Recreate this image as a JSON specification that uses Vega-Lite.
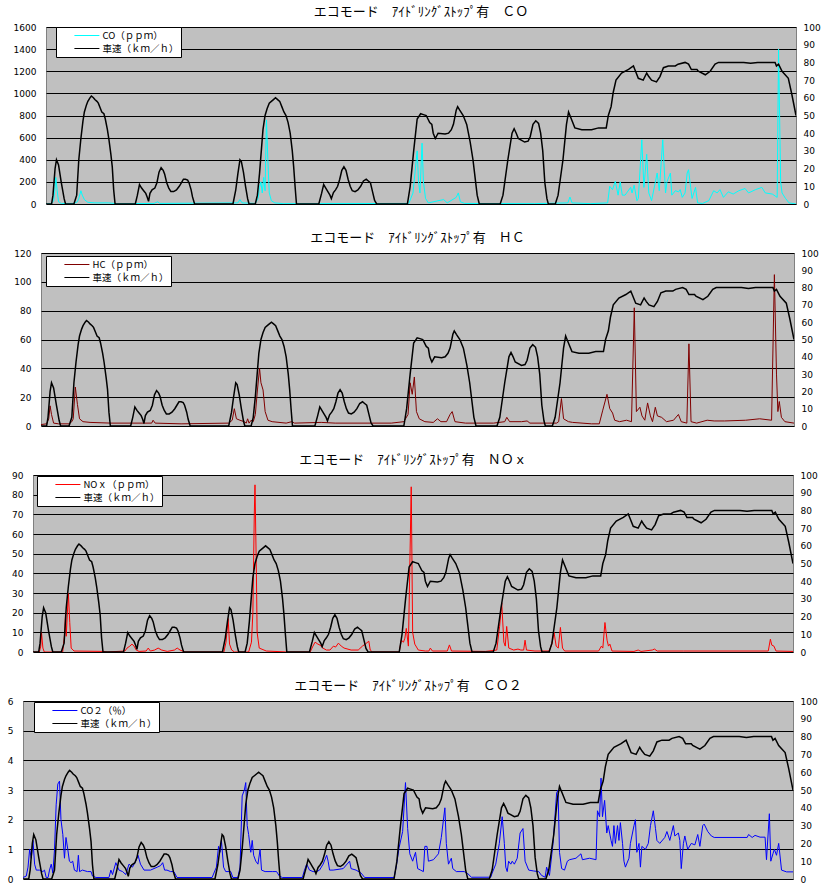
{
"$schema": "https://vega.github.io/schema/vega-lite/v6.json",
"background": "white",
"padding": {"left": 0, "top": 5, "right": 0, "bottom": 0},
"spacing": 21,
"resolve": {"scale": {"color": "independent"}, "legend": {"color": "independent"}},
"datasets": {
"speed": [
{"t":0,"v":0},{"t":8,"v":0},{"t":10,"v":5},{"t":13,"v":20},{"t":15,"v":25},{"t":18,"v":22},{"t":22,"v":12},{"t":26,"v":3},{"t":28,"v":0},
{"t":40,"v":0},{"t":44,"v":5},{"t":47,"v":25},{"t":50,"v":37},{"t":53,"v":47},{"t":55,"v":52},{"t":58,"v":56},{"t":60,"v":58},{"t":63,"v":60},{"t":65,"v":61},{"t":68,"v":60},{"t":70,"v":59},{"t":73,"v":58},{"t":75,"v":57},{"t":78,"v":54},{"t":80,"v":52},{"t":83,"v":51},{"t":85,"v":48},{"t":88,"v":42},{"t":90,"v":37},{"t":93,"v":28},{"t":95,"v":21},{"t":97,"v":8},{"t":99,"v":0},
{"t":128,"v":0},{"t":131,"v":5},{"t":134,"v":11},{"t":137,"v":9},{"t":140,"v":7.5},{"t":143,"v":6},{"t":145,"v":4},{"t":147,"v":1.5},{"t":149,"v":6},{"t":152,"v":8},{"t":156,"v":9},{"t":159,"v":12},{"t":162,"v":18},{"t":165,"v":20.5},{"t":168,"v":19},{"t":170,"v":17},{"t":173,"v":12},{"t":176,"v":9},{"t":179,"v":7},{"t":183,"v":7},{"t":187,"v":8},{"t":191,"v":10},{"t":194,"v":12},{"t":197,"v":14},{"t":200,"v":14},{"t":203,"v":13.5},{"t":205,"v":12},{"t":208,"v":8},{"t":210,"v":4},{"t":213,"v":0},
{"t":268,"v":0},{"t":272,"v":8},{"t":275,"v":17},{"t":278,"v":25},{"t":280,"v":24},{"t":283,"v":18},{"t":286,"v":10},{"t":289,"v":3},{"t":291,"v":0},
{"t":300,"v":0},{"t":303,"v":5},{"t":306,"v":17},{"t":309,"v":32},{"t":311,"v":42},{"t":314,"v":50},{"t":317,"v":54},{"t":320,"v":57},{"t":323,"v":58},{"t":326,"v":59},{"t":329,"v":60},{"t":332,"v":59},{"t":335,"v":58},{"t":338,"v":55},{"t":341,"v":52},{"t":344,"v":50},{"t":347,"v":46},{"t":350,"v":40},{"t":353,"v":30},{"t":355,"v":21},{"t":357,"v":10},{"t":359,"v":0},
{"t":391,"v":0},{"t":395,"v":6},{"t":398,"v":11},{"t":401,"v":9},{"t":404,"v":7},{"t":407,"v":5},{"t":409,"v":3},{"t":412,"v":6.5},{"t":415,"v":8},{"t":418,"v":10},{"t":421,"v":14},{"t":424,"v":19},{"t":427,"v":21},{"t":430,"v":19},{"t":433,"v":14},{"t":436,"v":10},{"t":439,"v":7.5},{"t":443,"v":7},{"t":447,"v":8},{"t":451,"v":10},{"t":455,"v":13},{"t":459,"v":14},{"t":462,"v":13},{"t":465,"v":12},{"t":468,"v":7},{"t":471,"v":2},{"t":474,"v":0},
{"t":518,"v":0},{"t":522,"v":10},{"t":527,"v":30},{"t":532,"v":48},{"t":537,"v":51},{"t":541,"v":50.5},{"t":545,"v":50},{"t":550,"v":46},{"t":553,"v":45},{"t":555,"v":40},{"t":558,"v":37},{"t":562,"v":40},{"t":572,"v":39.5},{"t":577,"v":40},{"t":581,"v":42},{"t":584,"v":45},{"t":588,"v":53},{"t":590,"v":55},{"t":593,"v":53},{"t":598,"v":50},{"t":603,"v":45},{"t":608,"v":35},{"t":612,"v":25},{"t":615,"v":15},{"t":618,"v":5},{"t":621,"v":0},
{"t":651,"v":0},{"t":655,"v":5},{"t":662,"v":25},{"t":668,"v":40},{"t":671,"v":42.5},{"t":674,"v":40},{"t":677,"v":37},{"t":686,"v":35},{"t":691,"v":35.5},{"t":694,"v":38},{"t":698,"v":45},{"t":702,"v":47},{"t":706,"v":45.5},{"t":709,"v":40},{"t":712,"v":30},{"t":715,"v":12},{"t":718,"v":3},{"t":720,"v":0},
{"t":730,"v":0},{"t":734,"v":5},{"t":741,"v":25},{"t":746,"v":45},{"t":749,"v":52},{"t":753,"v":48},{"t":758,"v":43},{"t":768,"v":42},{"t":782,"v":42},{"t":792,"v":43},{"t":803,"v":43},{"t":806,"v":50},{"t":810,"v":55},{"t":813,"v":63},{"t":817,"v":70},{"t":825,"v":74},{"t":835,"v":76},{"t":842,"v":78},{"t":844,"v":76},{"t":849,"v":71},{"t":856,"v":70},{"t":861,"v":74},{"t":864,"v":72},{"t":868,"v":70},{"t":875,"v":69},{"t":880,"v":72},{"t":885,"v":77},{"t":892,"v":78},{"t":902,"v":78},{"t":906,"v":79},{"t":916,"v":80},{"t":921,"v":79},{"t":925,"v":76},{"t":933,"v":76},{"t":935,"v":75},{"t":945,"v":73},{"t":952,"v":75},{"t":959,"v":79},{"t":964,"v":80},{"t":1000,"v":80},{"t":1010,"v":79.5},{"t":1020,"v":80},{"t":1045,"v":80},{"t":1047,"v":78},{"t":1050,"v":79},{"t":1055,"v":75},{"t":1064,"v":71},{"t":1069,"v":62},{"t":1075,"v":50}
],
"co": [
{"t":0,"v":0},{"t":8,"v":5},{"t":11,"v":30},{"t":13,"v":150},{"t":14,"v":240},{"t":16,"v":120},{"t":18,"v":20},{"t":22,"v":5},{"t":40,"v":5},{"t":45,"v":20},{"t":47,"v":50},{"t":50,"v":120},{"t":52,"v":80},{"t":55,"v":40},{"t":60,"v":15},{"t":70,"v":10},{"t":90,"v":10},{"t":100,"v":3},{"t":155,"v":5},{"t":160,"v":20},{"t":163,"v":5},{"t":275,"v":10},{"t":278,"v":40},{"t":281,"v":10},{"t":300,"v":5},{"t":304,"v":50},{"t":306,"v":150},{"t":308,"v":200},{"t":310,"v":100},{"t":312,"v":240},{"t":314,"v":120},{"t":316,"v":760},{"t":318,"v":400},{"t":320,"v":100},{"t":323,"v":30},{"t":328,"v":10},{"t":340,"v":3},{"t":520,"v":5},{"t":526,"v":100},{"t":532,"v":480},{"t":534,"v":200},{"t":536,"v":100},{"t":539,"v":550},{"t":541,"v":200},{"t":544,"v":50},{"t":548,"v":10},{"t":570,"v":40},{"t":575,"v":10},{"t":588,"v":60},{"t":591,"v":100},{"t":594,"v":20},{"t":600,"v":5},{"t":700,"v":3},{"t":748,"v":10},{"t":751,"v":63},{"t":754,"v":10},{"t":780,"v":3},{"t":805,"v":10},{"t":808,"v":160},{"t":812,"v":130},{"t":816,"v":205},{"t":820,"v":80},{"t":823,"v":200},{"t":826,"v":80},{"t":830,"v":80},{"t":838,"v":150},{"t":840,"v":100},{"t":843,"v":170},{"t":847,"v":30},{"t":849,"v":50},{"t":854,"v":580},{"t":857,"v":150},{"t":861,"v":450},{"t":864,"v":100},{"t":868,"v":30},{"t":876,"v":280},{"t":879,"v":120},{"t":884,"v":580},{"t":888,"v":100},{"t":890,"v":200},{"t":895,"v":280},{"t":897,"v":80},{"t":902,"v":120},{"t":907,"v":110},{"t":909,"v":130},{"t":912,"v":60},{"t":916,"v":100},{"t":919,"v":280},{"t":921,"v":310},{"t":924,"v":150},{"t":926,"v":50},{"t":931,"v":150},{"t":934,"v":10},{"t":941,"v":5},{"t":950,"v":30},{"t":957,"v":120},{"t":962,"v":100},{"t":966,"v":130},{"t":971,"v":60},{"t":978,"v":110},{"t":985,"v":90},{"t":993,"v":120},{"t":1002,"v":140},{"t":1007,"v":100},{"t":1017,"v":130},{"t":1026,"v":150},{"t":1031,"v":100},{"t":1041,"v":90},{"t":1048,"v":60},{"t":1050,"v":1400},{"t":1053,"v":200},{"t":1055,"v":100},{"t":1060,"v":50},{"t":1065,"v":10},{"t":1075,"v":0}
],
"hc": [
{"t":0,"v":1},{"t":8,"v":1.5},{"t":11,"v":5},{"t":13,"v":14},{"t":15,"v":8},{"t":18,"v":2},{"t":25,"v":1.5},{"t":40,"v":1.5},{"t":44,"v":3},{"t":46,"v":5},{"t":49,"v":27},{"t":52,"v":15},{"t":55,"v":5},{"t":60,"v":3},{"t":70,"v":2.5},{"t":100,"v":2},{"t":158,"v":2},{"t":160,"v":4},{"t":163,"v":2},{"t":200,"v":1.5},{"t":268,"v":2},{"t":273,"v":4},{"t":276,"v":12},{"t":279,"v":5},{"t":284,"v":4},{"t":290,"v":3},{"t":293,"v":2},{"t":295,"v":5},{"t":297,"v":2},{"t":300,"v":4},{"t":303,"v":3},{"t":306,"v":8},{"t":309,"v":25},{"t":312,"v":40},{"t":314,"v":30},{"t":317,"v":25},{"t":320,"v":10},{"t":324,"v":4},{"t":330,"v":3},{"t":350,"v":2},{"t":358,"v":3},{"t":362,"v":2},{"t":400,"v":2.5},{"t":420,"v":2},{"t":500,"v":2},{"t":518,"v":3},{"t":524,"v":8},{"t":527,"v":30},{"t":530,"v":22},{"t":533,"v":34},{"t":536,"v":10},{"t":540,"v":5},{"t":548,"v":3},{"t":560,"v":2.5},{"t":566,"v":5},{"t":571,"v":3},{"t":579,"v":3},{"t":584,"v":8},{"t":587,"v":10},{"t":591,"v":3},{"t":606,"v":2},{"t":646,"v":2},{"t":662,"v":3},{"t":665,"v":6},{"t":669,"v":3},{"t":686,"v":3},{"t":694,"v":3.5},{"t":698,"v":2},{"t":736,"v":2},{"t":739,"v":3},{"t":743,"v":19},{"t":746,"v":5},{"t":753,"v":3},{"t":759,"v":2.5},{"t":786,"v":1.5},{"t":797,"v":1.5},{"t":802,"v":11},{"t":808,"v":22},{"t":812,"v":12},{"t":816,"v":9},{"t":819,"v":4},{"t":826,"v":3},{"t":836,"v":4},{"t":843,"v":3},{"t":847,"v":82},{"t":850,"v":10},{"t":855,"v":13},{"t":858,"v":7},{"t":862,"v":4},{"t":866,"v":16},{"t":870,"v":7},{"t":873,"v":3},{"t":877,"v":13},{"t":880,"v":7},{"t":886,"v":6},{"t":893,"v":3},{"t":903,"v":4},{"t":910,"v":8},{"t":914,"v":3},{"t":922,"v":2},{"t":925,"v":57},{"t":928,"v":3},{"t":936,"v":2},{"t":951,"v":4},{"t":961,"v":3.5},{"t":976,"v":3.5},{"t":1006,"v":4},{"t":1026,"v":5},{"t":1043,"v":4},{"t":1047,"v":105},{"t":1050,"v":36},{"t":1052,"v":10},{"t":1054,"v":17},{"t":1057,"v":6},{"t":1062,"v":3},{"t":1075,"v":2}
],
"nox": [
{"t":0,"v":0},{"t":9,"v":0},{"t":11,"v":3},{"t":12,"v":10},{"t":14,"v":2},{"t":16,"v":0},{"t":42,"v":0},{"t":45,"v":10},{"t":46,"v":20},{"t":47,"v":8},{"t":50,"v":30},{"t":52,"v":15},{"t":54,"v":2},{"t":58,"v":0.5},{"t":100,"v":0.3},{"t":105,"v":0},{"t":130,"v":0.5},{"t":133,"v":2},{"t":137,"v":3},{"t":140,"v":4},{"t":143,"v":3},{"t":146,"v":1},{"t":150,"v":0.3},{"t":160,"v":0.5},{"t":163,"v":2},{"t":166,"v":0.5},{"t":172,"v":1},{"t":177,"v":2},{"t":182,"v":1},{"t":190,"v":0.3},{"t":200,"v":1},{"t":204,"v":2},{"t":208,"v":1},{"t":215,"v":0},{"t":270,"v":0},{"t":273,"v":5},{"t":276,"v":17},{"t":278,"v":4},{"t":281,"v":1},{"t":285,"v":0},{"t":305,"v":0},{"t":309,"v":5},{"t":311,"v":20},{"t":313,"v":70},{"t":314,"v":85},{"t":316,"v":40},{"t":317,"v":10},{"t":320,"v":2},{"t":330,"v":0.5},{"t":360,"v":0},{"t":392,"v":0},{"t":396,"v":3},{"t":399,"v":5},{"t":403,"v":4},{"t":406,"v":3.5},{"t":410,"v":2},{"t":415,"v":1},{"t":420,"v":1},{"t":425,"v":3},{"t":428,"v":2.5},{"t":432,"v":4.5},{"t":436,"v":3},{"t":440,"v":2},{"t":450,"v":1},{"t":460,"v":1},{"t":466,"v":3},{"t":470,"v":4},{"t":475,"v":5.5},{"t":477,"v":1},{"t":480,"v":0},{"t":518,"v":0},{"t":521,"v":6},{"t":524,"v":5},{"t":526,"v":7},{"t":528,"v":12},{"t":531,"v":3},{"t":535,"v":84},{"t":537,"v":10},{"t":540,"v":4},{"t":545,"v":1},{"t":555,"v":0.5},{"t":560,"v":0.5},{"t":562,"v":2},{"t":565,"v":0.5},{"t":586,"v":0.5},{"t":589,"v":3.6},{"t":592,"v":0.5},{"t":640,"v":0.3},{"t":656,"v":1},{"t":660,"v":13},{"t":663,"v":25},{"t":666,"v":5},{"t":668,"v":3},{"t":670,"v":13},{"t":673,"v":2},{"t":680,"v":1},{"t":686,"v":1.5},{"t":690,"v":1},{"t":694,"v":1},{"t":696,"v":6},{"t":698,"v":1},{"t":710,"v":0.5},{"t":730,"v":0.5},{"t":734,"v":4},{"t":737,"v":10},{"t":740,"v":3},{"t":743,"v":2},{"t":746,"v":12.5},{"t":749,"v":2},{"t":752,"v":0.5},{"t":800,"v":0.5},{"t":804,"v":3},{"t":806,"v":2},{"t":809,"v":15},{"t":812,"v":6},{"t":814,"v":3},{"t":816,"v":4},{"t":819,"v":0.5},{"t":850,"v":0.3},{"t":856,"v":1},{"t":860,"v":0.3},{"t":876,"v":1},{"t":879,"v":1.5},{"t":883,"v":0.5},{"t":920,"v":0.5},{"t":1000,"v":0.5},{"t":1040,"v":0.5},{"t":1043,"v":6.5},{"t":1045,"v":3.5},{"t":1048,"v":3},{"t":1051,"v":0.5},{"t":1075,"v":0.3}
],
"co2": [
{"t":0,"v":0.05},{"t":4.6,"v":0.1},{"t":7,"v":0.4},{"t":9.3,"v":1.0},{"t":11.6,"v":0.7},{"t":13.9,"v":1.3},{"t":16.2,"v":0.5},{"t":18.5,"v":0.3},{"t":23,"v":0.3},{"t":27.8,"v":0.25},{"t":30,"v":0.3},{"t":32.4,"v":0.05},{"t":35,"v":0.05},{"t":37,"v":0.3},{"t":39.4,"v":0.5},{"t":41.7,"v":0.2},{"t":44,"v":1.0},{"t":46.3,"v":2.5},{"t":48.6,"v":3.2},{"t":51,"v":3.3},{"t":53,"v":2.0},{"t":55.6,"v":1.5},{"t":57.9,"v":0.7},{"t":60,"v":1.4},{"t":62.5,"v":1.0},{"t":64.8,"v":0.6},{"t":67,"v":0.55},{"t":69.4,"v":0.6},{"t":71.8,"v":0.3},{"t":75.5,"v":0.25},{"t":77.3,"v":0.8},{"t":79,"v":0.25},{"t":83,"v":0.3},{"t":90,"v":0.25},{"t":95,"v":0.25},{"t":97,"v":0.1},{"t":102,"v":0.05},{"t":120,"v":0.05},{"t":122.7,"v":0.3},{"t":125,"v":0.15},{"t":129.6,"v":0.55},{"t":134,"v":0.3},{"t":139,"v":0.25},{"t":143.5,"v":0.15},{"t":148,"v":0.5},{"t":152.8,"v":0.4},{"t":157.4,"v":0.6},{"t":160.6,"v":0.8},{"t":164,"v":0.5},{"t":169,"v":0.3},{"t":178,"v":0.3},{"t":187.5,"v":0.4},{"t":192,"v":0.45},{"t":195,"v":0.55},{"t":197.7,"v":0.3},{"t":201,"v":0.3},{"t":206,"v":0.25},{"t":210.6,"v":0.25},{"t":215,"v":0.05},
{"t":264,"v":0.05},{"t":270,"v":0.4},{"t":273,"v":1.1},{"t":275,"v":0.9},{"t":277,"v":1.3},{"t":280,"v":0.4},{"t":283,"v":0.25},{"t":290,"v":0.25},{"t":293,"v":0.05},{"t":300,"v":0.05},{"t":303,"v":0.4},{"t":306,"v":2.8},{"t":309,"v":3.0},{"t":311,"v":3.25},{"t":313,"v":1.8},{"t":315,"v":1.5},{"t":318,"v":0.9},{"t":320,"v":1.3},{"t":322,"v":0.8},{"t":325,"v":0.6},{"t":328,"v":0.5},{"t":331,"v":1.0},{"t":333,"v":0.3},{"t":338,"v":0.25},{"t":348,"v":0.25},{"t":354,"v":0.25},{"t":358,"v":0.1},{"t":362,"v":0.05},
{"t":390,"v":0.05},{"t":393,"v":0.3},{"t":396,"v":0.5},{"t":400,"v":0.3},{"t":405,"v":0.25},{"t":410,"v":0.25},{"t":414,"v":0.3},{"t":419,"v":0.5},{"t":424,"v":0.8},{"t":426,"v":0.6},{"t":428,"v":0.3},{"t":433,"v":0.3},{"t":447,"v":0.35},{"t":456,"v":0.6},{"t":458,"v":0.35},{"t":465,"v":0.3},{"t":472,"v":0.2},{"t":477,"v":0.05},
{"t":518,"v":0.05},{"t":521,"v":0.4},{"t":525,"v":1.05},{"t":530,"v":1.6},{"t":534,"v":3.25},{"t":537,"v":1.7},{"t":540,"v":0.85},{"t":544,"v":0.6},{"t":548,"v":0.9},{"t":551,"v":0.35},{"t":555,"v":0.3},{"t":559,"v":0.25},{"t":561,"v":1.1},{"t":564,"v":1.1},{"t":566,"v":0.6},{"t":573,"v":0.65},{"t":580,"v":0.85},{"t":584,"v":1.4},{"t":589,"v":2.4},{"t":591,"v":1.2},{"t":594,"v":0.5},{"t":598,"v":0.7},{"t":600,"v":0.35},{"t":605,"v":0.25},{"t":616,"v":0.25},{"t":621,"v":0.18},{"t":626,"v":0.06},
{"t":653,"v":0.06},{"t":655,"v":0.2},{"t":660,"v":0.5},{"t":665,"v":1.2},{"t":669,"v":2.1},{"t":672,"v":1.2},{"t":674,"v":0.4},{"t":676,"v":0.25},{"t":678,"v":0.6},{"t":681,"v":0.5},{"t":683,"v":0.6},{"t":686,"v":0.5},{"t":690,"v":0.7},{"t":694,"v":1.55},{"t":698,"v":1.7},{"t":701,"v":0.6},{"t":706,"v":0.3},{"t":713,"v":0.27},{"t":720,"v":0.25},{"t":724,"v":0.12},{"t":729,"v":0.06},{"t":731,"v":0.4},{"t":735,"v":0.12},{"t":740,"v":1.2},{"t":745,"v":2.9},{"t":747,"v":3.0},{"t":749,"v":0.9},{"t":752,"v":0.35},{"t":756,"v":0.3},{"t":760,"v":0.6},{"t":763,"v":0.65},{"t":772,"v":0.7},{"t":779,"v":0.85},{"t":781,"v":0.65},{"t":791,"v":0.7},{"t":800,"v":0.65},
{"t":802,"v":2.3},{"t":805,"v":2.1},{"t":807,"v":3.4},{"t":809,"v":2.1},{"t":812,"v":2.65},{"t":815,"v":1.55},{"t":817,"v":1.8},{"t":821,"v":1.3},{"t":823,"v":1.1},{"t":825,"v":1.8},{"t":827,"v":1.2},{"t":830,"v":1.8},{"t":832,"v":1.3},{"t":834,"v":1.9},{"t":837,"v":1.2},{"t":839,"v":0.6},{"t":841,"v":0.4},{"t":846,"v":0.7},{"t":848,"v":1.2},{"t":853,"v":1.8},{"t":855,"v":2.0},{"t":857,"v":0.9},{"t":860,"v":1.2},{"t":862,"v":0.4},{"t":864,"v":1.1},{"t":869,"v":1.0},{"t":873,"v":1.2},{"t":876,"v":1.8},{"t":880,"v":2.3},{"t":883,"v":1.7},{"t":885,"v":1.3},{"t":889,"v":1.2},{"t":896,"v":1.4},{"t":899,"v":1.6},{"t":903,"v":1.3},{"t":908,"v":1.8},{"t":910,"v":1.45},{"t":915,"v":1.55},{"t":917,"v":1.3},{"t":919,"v":0.35},{"t":922,"v":1.2},{"t":924,"v":1.45},{"t":928,"v":1.0},{"t":933,"v":1.2},{"t":938,"v":1.15},{"t":942,"v":1.5},{"t":945,"v":1.1},{"t":949,"v":1.8},{"t":951,"v":1.85},{"t":956,"v":1.6},{"t":961,"v":1.45},{"t":965,"v":1.4},{"t":1011,"v":1.4},{"t":1013,"v":1.5},{"t":1018,"v":1.4},{"t":1022,"v":1.47},{"t":1029,"v":1.41},{"t":1036,"v":1.41},{"t":1038,"v":0.65},{"t":1042,"v":2.2},{"t":1044,"v":0.6},{"t":1047,"v":0.85},{"t":1049,"v":1.0},{"t":1052,"v":0.8},{"t":1055,"v":1.2},{"t":1059,"v":0.3},{"t":1066,"v":0.24},{"t":1075,"v":0.24}
]
},
"vconcat": [
{"hconcat": [
{"width": 1, "height": 10, "data": {"values": []}, "mark": "point", "view": {"fill": null, "stroke": null}},
{
"width": 750, "height": 177,
"title": {"text": "エコモード　ｱｲﾄﾞﾘﾝｸﾞｽﾄｯﾌﾟ有　ＣＯ"},
"layer": [
{"data": {"name": "co"}, "mark": {"type": "line", "strokeWidth": 1, "clip": true},
"encoding": {
"x": {"field": "t", "type": "quantitative", "scale": {"domain": [0, 1075], "nice": false, "zero": false}, "axis": {"values": [0,50,100,150,200,250,300,350,400,450,500,550,600,650,700,750,800,850,900,950,1000,1050], "labelPadding": 3, "domain": true, "domainColor": "black", "domainWidth": 2, "title": null}},
"y": {"field": "v", "type": "quantitative", "scale": {"domain": [0, 1600], "nice": false}, "axis": {"orient": "left", "format": "d", "values": [0,200,400,600,800,1000,1200,1400,1600], "grid": true, "labelPadding": 10, "minExtent": 40, "title": null}},
"color": {"datum": "CO（ｐｐｍ）", "type": "nominal", "scale": {"domain": ["CO（ｐｐｍ）", "車速（ｋｍ／ｈ）"], "range": ["#00FFFF", "black"]}, "legend": {"legendX": 10, "legendY": 0}}
}},
{"data": {"name": "speed"}, "mark": {"type": "line", "strokeWidth": 1.5, "clip": true},
"encoding": {
"x": {"field": "t", "type": "quantitative", "axis": null},
"y": {"field": "v", "type": "quantitative", "scale": {"domain": [0, 100], "nice": false}, "axis": {"orient": "right", "format": "d", "values": [0,10,20,30,40,50,60,70,80,90,100], "grid": false, "labelPadding": 7, "title": null}},
"color": {"datum": "車速（ｋｍ／ｈ）", "type": "nominal"}
}}
],
"resolve": {"scale": {"y": "independent"}}
}],
"spacing": 4,
"resolve": {"scale": {"color": "independent"}, "legend": {"color": "independent"}}
},
{"hconcat": [
{"width": 1, "height": 10, "data": {"values": []}, "mark": "point", "view": {"fill": null, "stroke": null}},
{
"width": 753, "height": 173,
"title": {"text": "エコモード　ｱｲﾄﾞﾘﾝｸﾞｽﾄｯﾌﾟ有　ＨＣ"},
"layer": [
{"data": {"name": "hc"}, "mark": {"type": "line", "strokeWidth": 1, "clip": true},
"encoding": {
"x": {"field": "t", "type": "quantitative", "scale": {"domain": [0, 1075], "nice": false, "zero": false}, "axis": {"values": [0,50,100,150,200,250,300,350,400,450,500,550,600,650,700,750,800,850,900,950,1000,1050], "labelPadding": 3, "domain": true, "domainColor": "black", "domainWidth": 2, "title": null}},
"y": {"field": "v", "type": "quantitative", "scale": {"domain": [0, 120], "nice": false}, "axis": {"orient": "left", "format": "d", "values": [0,20,40,60,80,100,120], "grid": true, "labelPadding": 10, "minExtent": 30, "title": null}},
"color": {"datum": "HC（ｐｐｍ）", "type": "nominal", "scale": {"domain": ["HC（ｐｐｍ）", "車速（ｋｍ／ｈ）"], "range": ["#800000", "black"]}, "legend": {"legendX": 5, "legendY": 3}}
}},
{"data": {"name": "speed"}, "mark": {"type": "line", "strokeWidth": 1.5, "clip": true},
"encoding": {
"x": {"field": "t", "type": "quantitative", "axis": null},
"y": {"field": "v", "type": "quantitative", "scale": {"domain": [0, 100], "nice": false}, "axis": {"orient": "right", "format": "d", "values": [0,10,20,30,40,50,60,70,80,90,100], "grid": false, "labelPadding": 7, "title": null}},
"color": {"datum": "車速（ｋｍ／ｈ）", "type": "nominal"}
}}
],
"resolve": {"scale": {"y": "independent"}}
}],
"spacing": 9,
"resolve": {"scale": {"color": "independent"}, "legend": {"color": "independent"}}
},
{"hconcat": [
{"width": 1, "height": 10, "data": {"values": []}, "mark": "point", "view": {"fill": null, "stroke": null}},
{
"width": 760, "height": 177,
"title": {"text": "エコモード　ｱｲﾄﾞﾘﾝｸﾞｽﾄｯﾌﾟ有　ＮＯｘ"},
"layer": [
{"data": {"name": "nox"}, "mark": {"type": "line", "strokeWidth": 1, "clip": true},
"encoding": {
"x": {"field": "t", "type": "quantitative", "scale": {"domain": [0, 1075], "nice": false, "zero": false}, "axis": {"values": [0,50,100,150,200,250,300,350,400,450,500,550,600,650,700,750,800,850,900,950,1000,1050], "labelPadding": 3, "domain": true, "domainColor": "black", "domainWidth": 2, "title": null}},
"y": {"field": "v", "type": "quantitative", "scale": {"domain": [0, 90], "nice": false}, "axis": {"orient": "left", "format": "d", "values": [0,10,20,30,40,50,60,70,80,90], "grid": true, "labelPadding": 10, "minExtent": 24, "title": null}},
"color": {"datum": "NOｘ（ｐｐｍ）", "type": "nominal", "scale": {"domain": ["NOｘ（ｐｐｍ）", "車速（ｋｍ／ｈ）"], "range": ["#FF0000", "black"]}, "legend": {"legendX": 4, "legendY": 1}}
}},
{"data": {"name": "speed"}, "mark": {"type": "line", "strokeWidth": 1.5, "clip": true},
"encoding": {
"x": {"field": "t", "type": "quantitative", "axis": null},
"y": {"field": "v", "type": "quantitative", "scale": {"domain": [0, 100], "nice": false}, "axis": {"orient": "right", "format": "d", "values": [0,10,20,30,40,50,60,70,80,90,100], "grid": false, "labelPadding": 7, "title": null}},
"color": {"datum": "車速（ｋｍ／ｈ）", "type": "nominal"}
}}
],
"resolve": {"scale": {"y": "independent"}}
}],
"spacing": 7,
"resolve": {"scale": {"color": "independent"}, "legend": {"color": "independent"}}
},
{"hconcat": [
{"width": 1, "height": 10, "data": {"values": []}, "mark": "point", "view": {"fill": null, "stroke": null}},
{
"width": 770, "height": 178,
"title": {"text": "エコモード　ｱｲﾄﾞﾘﾝｸﾞｽﾄｯﾌﾟ有　ＣＯ２"},
"layer": [
{"data": {"name": "co2"}, "mark": {"type": "line", "strokeWidth": 1, "clip": true},
"encoding": {
"x": {"field": "t", "type": "quantitative", "scale": {"domain": [0, 1075], "nice": false, "zero": false}, "axis": {"values": [0,50,100,150,200,250,300,350,400,450,500,550,600,650,700,750,800,850,900,950,1000,1050], "labelPadding": 3, "domain": true, "domainColor": "black", "domainWidth": 2, "title": null}},
"y": {"field": "v", "type": "quantitative", "scale": {"domain": [0, 6], "nice": false}, "axis": {"orient": "left", "format": "d", "values": [0,1,2,3,4,5,6], "grid": true, "labelPadding": 10, "minExtent": 18, "title": null}},
"color": {"datum": "CO２（％）", "type": "nominal", "scale": {"domain": ["CO２（％）", "車速（ｋｍ／ｈ）"], "range": ["#0000FF", "black"]}, "legend": {"legendX": 11, "legendY": 1}}
}},
{"data": {"name": "speed"}, "mark": {"type": "line", "strokeWidth": 1.5, "clip": true},
"encoding": {
"x": {"field": "t", "type": "quantitative", "axis": null},
"y": {"field": "v", "type": "quantitative", "scale": {"domain": [0, 100], "nice": false}, "axis": {"orient": "right", "format": "d", "values": [0,10,20,30,40,50,60,70,80,90,100], "grid": false, "labelPadding": 7, "title": null}},
"color": {"datum": "車速（ｋｍ／ｈ）", "type": "nominal"}
}}
],
"resolve": {"scale": {"y": "independent"}}
}],
"spacing": 3,
"resolve": {"scale": {"color": "independent"}, "legend": {"color": "independent"}}
}
],
"config": {
"view": {"fill": "#C0C0C0", "stroke": "#808080", "strokeWidth": 1},
"axis": {"labelFont": "DejaVu Sans", "labelFontSize": 9, "labelColor": "black", "ticks": false, "domain": false, "gridColor": "black", "gridWidth": 1, "gridOpacity": 1},
"title": {"font": "Noto Sans CJK JP", "fontSize": 13, "fontWeight": "normal", "color": "black", "anchor": "middle", "offset": 4},
"legend": {"orient": "none", "title": null, "fillColor": "white", "strokeColor": "black", "padding": 2, "symbolType": "M0.54,0H3.04", "symbolSize": 400, "symbolStrokeWidth": 1.2, "clipHeight": 13, "rowPadding": 0, "labelFont": "Noto Sans CJK JP", "labelFontSize": 9.5, "labelColor": "black", "labelOffset": 22.5}
}
}
